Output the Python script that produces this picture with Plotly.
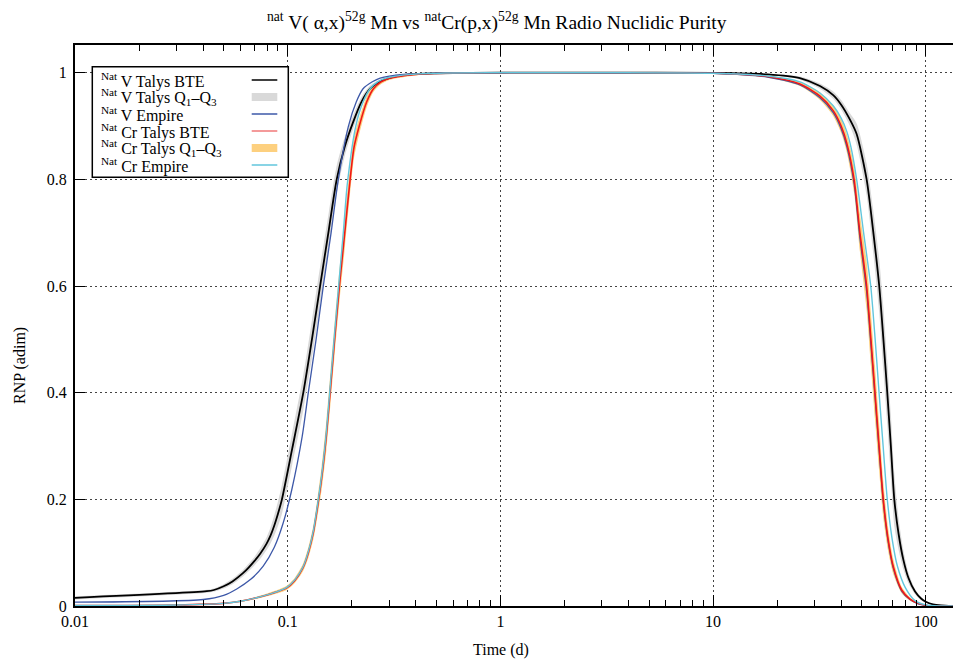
import plotly.graph_objects as go

# ---------------- data ----------------
# natV Talys BTE
v_bte_t = [0.01, 0.0416, 0.045, 0.05, 0.055, 0.0618, 0.0655, 0.07, 0.0745, 0.0796,
           0.083, 0.0865, 0.09, 0.0937,
           0.105, 0.1184, 0.13, 0.142, 0.156, 0.170, 0.185, 0.202, 0.222, 0.244,
           0.27, 0.30, 0.375, 0.5, 1, 3, 10, 18, 25.6, 31.8,
           36.7, 40, 44, 47.3, 52.7, 56.5, 60.4, 63.2, 65.9, 68.5,
           71.1, 74.5, 78.4, 83, 89, 95, 100, 108, 118, 134]
v_bte_y = [0.0154, 0.0277, 0.030, 0.037, 0.046, 0.062, 0.072, 0.085, 0.099, 0.117,
           0.132, 0.151, 0.173, 0.198,
           0.295, 0.400, 0.500, 0.600, 0.705, 0.800, 0.860, 0.905, 0.945, 0.970,
           0.983, 0.990, 0.997, 0.999, 1.0, 1.0, 0.9995, 0.997, 0.990, 0.975,
           0.958, 0.940, 0.912, 0.885, 0.800, 0.705, 0.600, 0.500, 0.400, 0.300,
           0.200, 0.135, 0.087, 0.052, 0.027, 0.014, 0.008, 0.003, 0.001, 0.0]
# natV Talys Q1-Q3 (same time grid as BTE)
v_q1_y = [0.0124, 0.0247, 0.027, 0.033, 0.041, 0.056, 0.065, 0.077, 0.089, 0.105,
          0.117, 0.132, 0.150, 0.171,
          0.265, 0.367, 0.464, 0.564, 0.672, 0.774, 0.842, 0.892, 0.936, 0.964,
          0.979, 0.987, 0.995, 0.998, 1.0, 1.0, 0.999, 0.996, 0.987, 0.970,
          0.951, 0.931, 0.900, 0.865, 0.770, 0.665, 0.550, 0.440, 0.340, 0.240,
          0.150, 0.105, 0.069, 0.042, 0.022, 0.011, 0.006, 0.002, 0.0005, 0.0]
v_q3_y = [0.0184, 0.0307, 0.033, 0.041, 0.051, 0.068, 0.079, 0.093, 0.109, 0.129,
          0.147, 0.170, 0.196, 0.225,
          0.325, 0.433, 0.536, 0.636, 0.738, 0.826, 0.878, 0.918, 0.954, 0.976,
          0.987, 0.993, 0.999, 1.0, 1.0, 1.0, 1.0, 0.998, 0.993, 0.980,
          0.965, 0.949, 0.924, 0.905, 0.830, 0.745, 0.650, 0.560, 0.460, 0.360,
          0.250, 0.165, 0.105, 0.062, 0.032, 0.017, 0.010, 0.004, 0.0015, 0.0]
# natV Empire
v_emp_t = [0.01, 0.0401, 0.05, 0.0576, 0.067, 0.0767, 0.0865, 0.0953, 0.1045, 0.117,
           0.125, 0.136, 0.147, 0.16, 0.173, 0.193, 0.21, 0.226, 0.25, 0.272,
           0.35, 0.5, 1, 3, 10, 18, 25.6, 31.8, 36.7, 40,
           42.5, 46, 49, 52.7, 55.2, 57.7, 60.3, 63.1, 66.5, 70.3,
           77, 84.3, 92, 101, 115, 134]
v_emp_y = [0.0071, 0.0122, 0.020, 0.032, 0.050, 0.0746, 0.110, 0.156, 0.218, 0.318,
           0.400, 0.500, 0.600, 0.700, 0.800, 0.900, 0.945, 0.970, 0.983, 0.990,
           0.997, 0.999, 1.0, 1.0, 0.999, 0.992, 0.977, 0.953, 0.925, 0.895,
           0.862, 0.792, 0.690, 0.590, 0.490, 0.392, 0.293, 0.195, 0.121, 0.071,
           0.028, 0.012, 0.004, 0.001, 0.0, 0.0]
# natCr Talys BTE
cr_bte_t = [0.01, 0.03, 0.0498, 0.06, 0.0714, 0.085, 0.0989, 0.108, 0.118, 0.125,
            0.132, 0.138, 0.1444, 0.152, 0.159, 0.167, 0.176, 0.186, 0.196, 0.205,
            0.217, 0.235, 0.253, 0.275, 0.303, 0.4, 0.6, 1, 3, 10,
            18, 25.6, 31.8, 36.7, 40, 42.5, 46, 49, 52.7, 55.2,
            57.7, 60.3, 63.1, 66.5, 70.3, 77, 84.3, 92, 101, 115, 134]
cr_bte_y = [0.001, 0.002, 0.005, 0.009, 0.0154, 0.024, 0.034, 0.048, 0.072, 0.100,
            0.138, 0.185, 0.240, 0.320, 0.410, 0.510, 0.610, 0.705, 0.795, 0.860,
            0.900, 0.945, 0.970, 0.983, 0.990, 0.997, 0.9995, 1.0, 1.0, 0.999,
            0.993, 0.979, 0.956, 0.929, 0.900, 0.868, 0.800, 0.700, 0.600, 0.500,
            0.400, 0.300, 0.200, 0.125, 0.074, 0.030, 0.013, 0.005, 0.001, 0.0, 0.0]
# natCr Talys Q1-Q3 (same time grid as BTE)
cr_q1_y = [0.0, 0.001, 0.004, 0.0075, 0.0134, 0.021, 0.030, 0.043, 0.065, 0.090,
           0.125, 0.168, 0.218, 0.292, 0.380, 0.480, 0.580, 0.675, 0.770, 0.840,
           0.885, 0.935, 0.964, 0.979, 0.987, 0.995, 0.999, 1.0, 1.0, 0.998,
           0.991, 0.975, 0.949, 0.919, 0.887, 0.851, 0.775, 0.665, 0.555, 0.450,
           0.350, 0.255, 0.165, 0.103, 0.060, 0.024, 0.010, 0.0035, 0.0005, 0.0, 0.0]
cr_q3_y = [0.002, 0.003, 0.006, 0.0105, 0.0174, 0.027, 0.038, 0.053, 0.079, 0.110,
           0.151, 0.202, 0.262, 0.348, 0.440, 0.540, 0.640, 0.735, 0.820, 0.880,
           0.915, 0.955, 0.976, 0.987, 0.993, 0.999, 1.0, 1.0, 1.0, 1.0,
           0.995, 0.983, 0.963, 0.939, 0.913, 0.885, 0.825, 0.735, 0.645, 0.550,
           0.450, 0.345, 0.235, 0.147, 0.088, 0.036, 0.016, 0.0065, 0.0015, 0.0, 0.0]
# natCr Empire
cr_emp_t = [0.01, 0.03, 0.0498, 0.06, 0.0714, 0.085, 0.0989, 0.108, 0.118, 0.125,
            0.132, 0.138, 0.1444, 0.152, 0.159, 0.167, 0.176, 0.183, 0.1905, 0.209,
            0.226, 0.244, 0.265, 0.29, 0.38, 0.55, 1, 3, 10, 18,
            25.6, 31.8, 36.7, 40, 42.5, 44.5, 47.3, 51, 55.1, 57.8,
            60.3, 63, 65.9, 69.5, 73.5, 80, 89, 100, 115, 134]
cr_emp_y = [0.001, 0.002, 0.005, 0.009, 0.0155, 0.024, 0.035, 0.049, 0.073, 0.102,
            0.141, 0.189, 0.245, 0.327, 0.420, 0.522, 0.628, 0.705, 0.790, 0.900,
            0.945, 0.970, 0.983, 0.990, 0.997, 0.9995, 1.0, 1.0, 0.999, 0.994,
            0.983, 0.962, 0.938, 0.915, 0.890, 0.860, 0.800, 0.700, 0.600, 0.500,
            0.400, 0.300, 0.200, 0.125, 0.075, 0.035, 0.010, 0.002, 0.0, 0.0]

x_tick_vals = [0.01, 0.1, 1, 10, 100]
x_tick_text = ["0.01", "0.1", "1", "10", "100"]
x_minor_vals = [0.02, 0.03, 0.04, 0.05, 0.06, 0.07, 0.08, 0.09,
                0.2, 0.3, 0.4, 0.5, 0.6, 0.7, 0.8, 0.9,
                2, 3, 4, 5, 6, 7, 8, 9,
                20, 30, 40, 50, 60, 70, 80, 90]
y_tick_vals = [0, 0.2, 0.4, 0.6, 0.8, 1]
y_tick_text = ["0", "0.2", "0.4", "0.6", "0.8", "1"]

legend_labels = ["<sup>Nat</sup> V Talys BTE",
                 "<sup>Nat</sup> V Talys Q<sub>1</sub>\u2013Q<sub>3</sub>",
                 "<sup>Nat</sup> V Empire",
                 "<sup>Nat</sup> Cr Talys BTE",
                 "<sup>Nat</sup> Cr Talys Q<sub>1</sub>\u2013Q<sub>3</sub>",
                 "<sup>Nat</sup> Cr Empire"]

title_text = ("<sup>nat</sup> V( \u03b1,x)<sup>52g</sup> Mn vs "
              "<sup>nat</sup>Cr(p,x)<sup>52g</sup> Mn Radio Nuclidic Purity")

# ---------------- styles ----------------
C_BLACK = "#000000"
C_GREY = "#d9d9d9"
C_BLUE = "#3d58a8"
C_RED = "#f01818"
C_ORANGE = "#fdd07f"
C_CYAN = "#62c6dc"
FONT = "Liberation Serif"

W, H = 953, 668
ML, MR, MT, MB = 75, 0, 45, 62
PW, PH = W - ML - MR, H - MT - MB


def px_x(px):
    return (px - ML) / PW


def px_y(py):
    return (H - MB - py) / PH


fig = go.Figure()

SM = 0.7
# bands
fig.add_trace(go.Scatter(x=v_bte_t, y=v_q1_y, mode="lines",
                         line=dict(width=0, color=C_GREY, shape="spline", smoothing=SM),
                         showlegend=False, hoverinfo="skip"))
fig.add_trace(go.Scatter(x=v_bte_t, y=v_q3_y, mode="lines",
                         line=dict(width=0, color=C_GREY, shape="spline", smoothing=SM),
                         fill="tonexty", fillcolor=C_GREY, showlegend=False, hoverinfo="skip"))
fig.add_trace(go.Scatter(x=cr_bte_t, y=cr_q1_y, mode="lines",
                         line=dict(width=0, color=C_ORANGE, shape="spline", smoothing=SM),
                         showlegend=False, hoverinfo="skip"))
fig.add_trace(go.Scatter(x=cr_bte_t, y=cr_q3_y, mode="lines",
                         line=dict(width=0, color=C_ORANGE, shape="spline", smoothing=SM),
                         fill="tonexty", fillcolor=C_ORANGE, showlegend=False, hoverinfo="skip"))
# lines
fig.add_trace(go.Scatter(x=v_bte_t, y=v_bte_y, mode="lines",
                         line=dict(width=1.8, color=C_BLACK, shape="spline", smoothing=SM),
                         showlegend=False))
fig.add_trace(go.Scatter(x=v_emp_t, y=v_emp_y, mode="lines",
                         line=dict(width=1.3, color=C_BLUE, shape="spline", smoothing=SM),
                         showlegend=False))
fig.add_trace(go.Scatter(x=cr_bte_t, y=cr_bte_y, mode="lines",
                         line=dict(width=1.6, color=C_RED, shape="spline", smoothing=SM),
                         showlegend=False))
fig.add_trace(go.Scatter(x=cr_emp_t, y=cr_emp_y, mode="lines",
                         line=dict(width=1.4, color=C_CYAN, shape="spline", smoothing=SM),
                         showlegend=False))

# custom legend (text left, sample right, as in the reference)
shapes = [dict(type="rect", xref="paper", yref="paper",
               x0=px_x(92.3), x1=px_x(288.3), y0=px_y(177.3), y1=px_y(66.7),
               line=dict(color="black", width=1.5), fillcolor="white", layer="above")]
annotations = []
samples = [("line", C_BLACK, 1.5), ("band", C_GREY, 0), ("line", C_BLUE, 1.5),
           ("line", "#f07878", 1.5), ("band", C_ORANGE, 0), ("line", C_CYAN, 1.5)]
for i, (lab, (kind, col, lw)) in enumerate(zip(legend_labels, samples)):
    yc = 80 + 17 * i
    if kind == "line":
        shapes.append(dict(type="line", xref="paper", yref="paper",
                           x0=px_x(251.7), x1=px_x(277.3), y0=px_y(yc), y1=px_y(yc),
                           line=dict(color=col, width=lw), layer="above"))
    else:
        shapes.append(dict(type="rect", xref="paper", yref="paper",
                           x0=px_x(251.7), x1=px_x(277.3), y0=px_y(yc + 4), y1=px_y(yc - 4),
                           line=dict(width=0), fillcolor=col, layer="above"))
    annotations.append(dict(text=lab, xref="paper", yref="paper", x=px_x(99), y=px_y(yc),
                            xanchor="left", yanchor="middle", showarrow=False,
                            font=dict(family=FONT, size=16, color="black")))

annotations.append(dict(text=title_text, xref="paper", yref="paper", x=px_x(497), y=px_y(21),
                        xanchor="center", yanchor="middle", showarrow=False,
                        font=dict(family=FONT, size=19.5, color="black")))
annotations.append(dict(text="Time (d)", xref="paper", yref="paper", x=px_x(501), y=px_y(650),
                        xanchor="center", yanchor="middle", showarrow=False,
                        font=dict(family=FONT, size=16, color="black")))
annotations.append(dict(text="RNP (adim)", xref="paper", yref="paper", x=px_x(20), y=px_y(365),
                        xanchor="center", yanchor="middle", showarrow=False, textangle=-90,
                        font=dict(family=FONT, size=16, color="black")))

grid_dash = "2px,3px"
fig.update_layout(
    template="none",
    width=W, height=H,
    margin=dict(l=ML, r=MR, t=MT, b=MB, pad=0),
    paper_bgcolor="white", plot_bgcolor="white",
    font=dict(family=FONT, size=16, color="black"),
    showlegend=False,
    shapes=shapes,
    annotations=annotations,
    xaxis=dict(type="log", range=[-2, -2 + PW / 212.7], showline=True, linecolor="black",
               linewidth=2, mirror="ticks", ticks="inside", ticklen=11, tickwidth=1.3,
               tickcolor="black", tickvals=x_tick_vals, ticktext=x_tick_text,
               showgrid=True, gridcolor="#444444", gridwidth=1, griddash=grid_dash,
               zeroline=False, ticklabelstandoff=0,
               minor=dict(tickvals=x_minor_vals, ticks="inside", ticklen=6, tickwidth=1.2,
                          tickcolor="black", showgrid=False)),
    yaxis=dict(range=[0, 1.052], showline=True, linecolor="black", linewidth=2,
               mirror=False, ticks="inside", ticklen=10, tickwidth=1.3, tickcolor="black",
               tickvals=y_tick_vals, ticktext=y_tick_text,
               showgrid=True, gridcolor="#444444", gridwidth=1, griddash=grid_dash,
               zeroline=False, ticklabelstandoff=3),
)

fig.write_html("out.html", config={"displayModeBar": False},
               post_script="document.body.style.margin='0';document.body.style.overflow='hidden';")
